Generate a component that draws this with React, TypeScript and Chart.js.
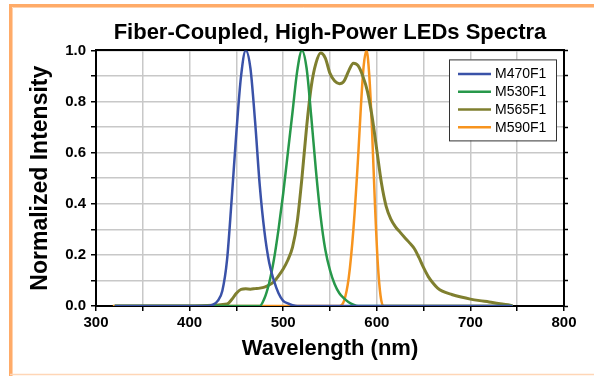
import React, { useEffect, useRef } from 'react';
import { Chart, registerables } from 'chart.js';

Chart.register(...registerables);

const FONT = '"Liberation Sans", Arial, Helvetica, sans-serif';

const chartTitle = 'Fiber-Coupled, High-Power LEDs Spectra';
const xAxisTitle = 'Wavelength (nm)';
const yAxisTitle = 'Normalized Intensity';

const seriesLabels = ['M470F1', 'M530F1', 'M565F1', 'M590F1'];
const seriesColors = ['#3a52a8', '#27984a', '#7f7f2f', '#f7941e'];

const wl470 = [320, 420, 425, 430, 435, 440, 445, 450, 455, 460, 465, 470, 475, 480, 485, 490, 495, 500, 505, 510, 515, 745];
const int470 = [0, 0, 0.005, 0.02, 0.06, 0.18, 0.42, 0.68, 0.9, 1.0, 0.93, 0.72, 0.47, 0.29, 0.17, 0.1, 0.05, 0.02, 0.01, 0.003, 0, 0];

const wl530 = [320, 475, 480, 485, 490, 495, 500, 505, 510, 515, 520, 525, 530, 535, 540, 545, 550, 555, 560, 565, 570, 575, 580, 745];
const int530 = [0, 0, 0.03, 0.09, 0.18, 0.3, 0.44, 0.6, 0.76, 0.92, 1.0, 0.93, 0.74, 0.53, 0.35, 0.22, 0.14, 0.085, 0.05, 0.03, 0.015, 0.005, 0, 0];

const wl565 = [320, 390, 440, 445, 450, 455, 460, 465, 470, 475, 480, 485, 490, 495, 500, 505, 510, 515, 520, 525, 530, 535, 540, 545, 550, 555, 560, 565, 570, 575, 580, 585, 590, 595, 600, 605, 610, 615, 620, 625, 630, 635, 640, 645, 650, 655, 660, 665, 670, 680, 690, 700, 710, 720, 730, 740, 745];
const int565 = [0, 0, 0.008, 0.025, 0.05, 0.065, 0.067, 0.066, 0.068, 0.07, 0.074, 0.082, 0.095, 0.118, 0.145, 0.18, 0.23, 0.33, 0.5, 0.7, 0.86, 0.95, 0.99, 0.97, 0.91, 0.88, 0.87, 0.88, 0.92, 0.95, 0.94, 0.9, 0.84, 0.74, 0.61, 0.48, 0.39, 0.34, 0.31, 0.288, 0.267, 0.247, 0.225, 0.19, 0.15, 0.115, 0.09, 0.07, 0.058, 0.045, 0.035, 0.027, 0.021, 0.016, 0.01, 0.005, 0];

const wl590 = [318, 560, 565, 570, 575, 580, 583, 586, 589, 592, 595, 598, 601, 604, 607, 745];
const int590 = [0, 0, 0.02, 0.11, 0.3, 0.58, 0.78, 0.94, 1.0, 0.9, 0.68, 0.4, 0.17, 0.04, 0, 0];

const xMin = 300;
const xMax = 800;
const xStep = 50;
const yMin = 0;
const yMax = 1;
const yStep = 0.1;

const toPoints = (wl: number[], v: number[]) => wl.map((x, i) => ({ x, y: v[i] }));

const framePlugin = {
  id: 'frame',
  beforeDraw(chart: any) {
    const ctx = chart.ctx;
    ctx.save();
    ctx.fillStyle = '#ffffff';
    ctx.fillRect(0, 0, chart.width, chart.height);
    ctx.strokeStyle = '#ffab68';
    ctx.lineWidth = 3;
    ctx.beginPath();
    ctx.moveTo(10.5, chart.height);
    ctx.lineTo(10.5, 5.5);
    ctx.lineTo(chart.width, 5.5);
    ctx.stroke();
    ctx.strokeStyle = '#ffd2ae';
    ctx.lineWidth = 1;
    ctx.beginPath();
    ctx.moveTo(12.5, chart.height);
    ctx.lineTo(12.5, 7.5);
    ctx.lineTo(chart.width, 7.5);
    ctx.stroke();
    ctx.strokeStyle = '#ffd6b6';
    ctx.lineWidth = 1.5;
    ctx.beginPath();
    ctx.moveTo(10, chart.height - 1.5);
    ctx.lineTo(chart.width, chart.height - 1.5);
    ctx.stroke();
    ctx.restore();
  },
};

const legendPlugin = {
  id: 'boxLegend',
  afterDatasetsDraw(chart: any) {
    const ctx = chart.ctx;
    const area = chart.chartArea;
    const w = 107;
    const h = 81;
    const left = area.right - 8 - w;
    const top = area.top + 9;
    ctx.save();
    ctx.fillStyle = '#ffffff';
    ctx.fillRect(left, top, w, h);
    ctx.strokeStyle = '#333333';
    ctx.lineWidth = 1;
    ctx.strokeRect(left + 0.5, top + 0.5, w, h);
    ctx.font = `14px ${FONT}`;
    ctx.textBaseline = 'middle';
    ctx.textAlign = 'left';
    chart.data.datasets.forEach((ds: any, i: number) => {
      const y = top + 14.5 + i * 17.8;
      ctx.strokeStyle = ds.borderColor;
      ctx.lineWidth = 2.5;
      ctx.beginPath();
      ctx.moveTo(left + 9, y);
      ctx.lineTo(left + 42, y);
      ctx.stroke();
      ctx.fillStyle = '#000000';
      ctx.fillText(ds.label, left + 46, y + 0.5);
    });
    ctx.restore();
  },
};

export default function App() {
  const ref = useRef<HTMLCanvasElement>(null);
  useEffect(() => {
    document.body.style.margin = '0';
    const series = [
      toPoints(wl470, int470),
      toPoints(wl530, int530),
      toPoints(wl565, int565),
      toPoints(wl590, int590),
    ];
    const tickFont = { family: FONT, size: 15, weight: 'bold' as const };
    const chart = new Chart(ref.current as HTMLCanvasElement, {
      type: 'line',
      data: {
        datasets: series.map((data, i) => ({
          label: seriesLabels[i],
          data,
          borderColor: seriesColors[i],
          backgroundColor: seriesColors[i],
          borderWidth: i === 2 ? 3 : 2.5,
          pointRadius: 0,
          fill: false,
          cubicInterpolationMode: 'monotone' as const,
        })),
      },
      options: {
        animation: false,
        responsive: false,
        devicePixelRatio: 1,
        layout: { padding: 0 },
        plugins: {
          legend: { display: false },
          tooltip: { enabled: false },
          title: {
            display: true,
            text: chartTitle,
            fullSize: false,
            color: '#000',
            font: { family: FONT, size: 22, weight: 'bold' },
            padding: { top: 20, bottom: 4 },
          },
        },
        scales: {
          x: {
            type: 'linear',
            position: 'bottom',
            min: xMin,
            max: xMax,
            ticks: {
              stepSize: xStep,
              autoSkip: false,
              maxRotation: 0,
              color: '#000',
              font: tickFont,
              padding: 3,
              callback: (v: any) => (Number(v) % 100 === 0 ? String(v) : ''),
            },
            grid: { color: '#c8c8c8', lineWidth: 1.5, tickColor: '#000', tickLength: 5, tickWidth: 1.5 },
            border: { color: '#000', width: 2 },
            title: { display: true, text: xAxisTitle, color: '#000', font: { family: FONT, size: 22, weight: 'bold' }, padding: { top: 0, bottom: 14 } },
            afterFit: (s: any) => { s.height = 70; },
          },
          x2: {
            type: 'linear',
            position: 'top',
            min: xMin,
            max: xMax,
            ticks: { display: false },
            grid: { display: false },
            border: { color: '#000', width: 2 },
            afterFit: (s: any) => { s.height = 0; },
          },
          y: {
            type: 'linear',
            position: 'left',
            min: yMin,
            max: yMax,
            ticks: {
              stepSize: yStep,
              autoSkip: false,
              color: '#000',
              font: tickFont,
              padding: 5,
              callback: (v: any) => (Math.round(Number(v) * 10) % 2 === 0 ? Number(v).toFixed(1) : ''),
            },
            grid: { color: '#c8c8c8', lineWidth: 1.5, tickColor: '#000', tickLength: 5, tickWidth: 1.5 },
            border: { color: '#000', width: 2 },
            title: { display: true, text: yAxisTitle, color: '#000', font: { family: FONT, size: 23, weight: 'bold' }, padding: { top: 27, bottom: 0 } },
            afterFit: (s: any) => { s.width = 96; },
          },
          y2: {
            type: 'linear',
            position: 'right',
            min: yMin,
            max: yMax,
            ticks: { display: false, stepSize: yStep },
            grid: { drawOnChartArea: false, drawTicks: true, tickLength: 4, color: '#000', tickColor: '#000', tickWidth: 1.5 },
            border: { color: '#000', width: 2 },
            afterFit: (s: any) => { s.width = 30; },
          },
        },
      },
      plugins: [framePlugin, legendPlugin],
    });
    return () => chart.destroy();
  }, []);
  return <canvas ref={ref} width={594} height={376} style={{ display: 'block' }} />;
}
